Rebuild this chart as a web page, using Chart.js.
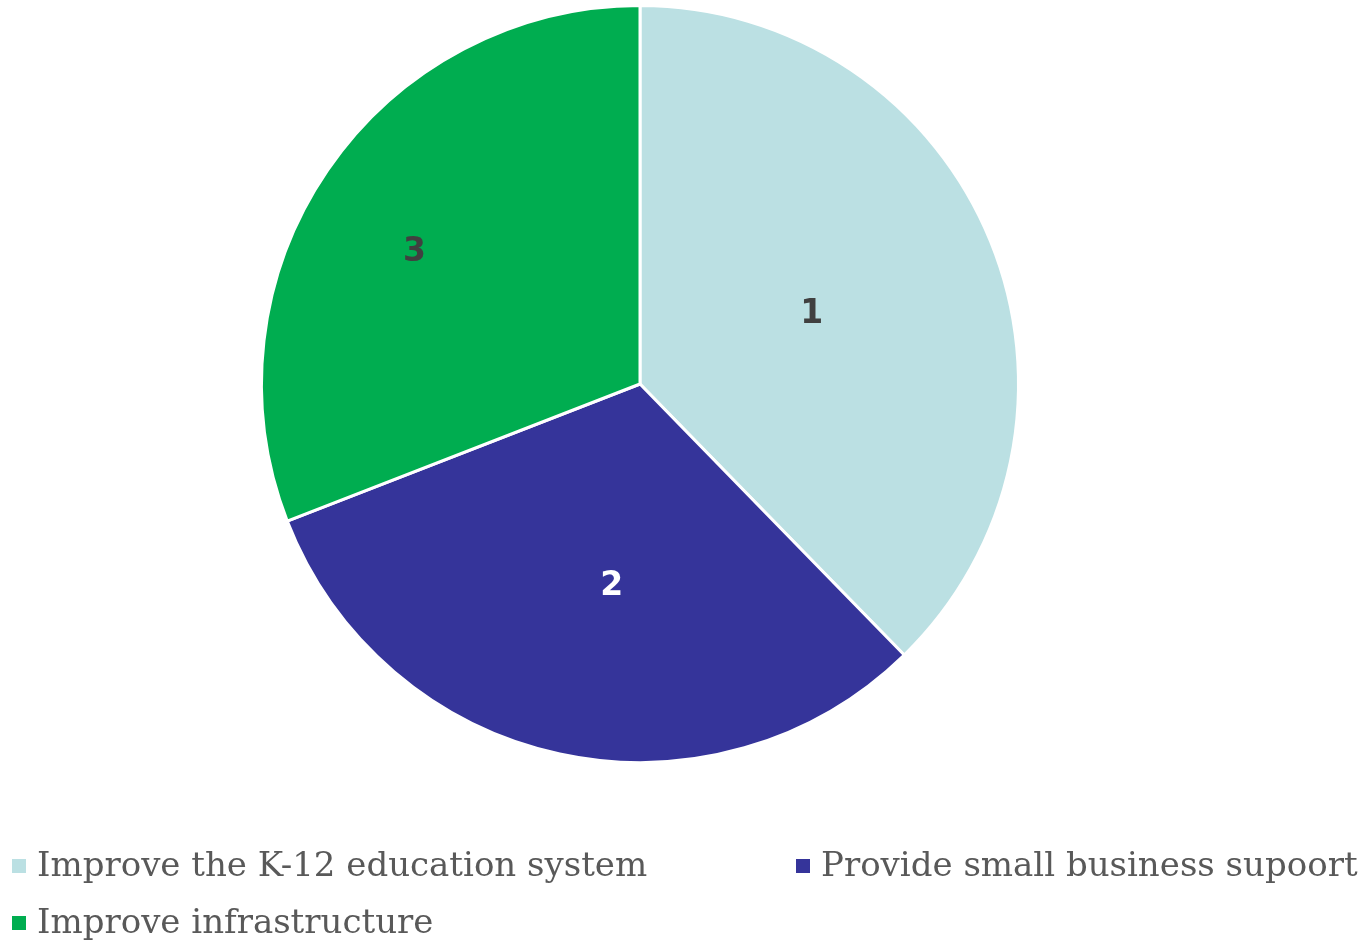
<!DOCTYPE html>
<html>
<head>
<meta charset="utf-8">
<script src="https://cdn.jsdelivr.net/npm/chart.js@4/dist/chart.umd.min.js"></script>
<style>
  html, body { margin: 0; padding: 0; background: #fff; }
  #wrap { position: relative; width: 1359px; height: 945px; }
  #legend { position: absolute; left: 0; top: 0; width: 1359px; height: 945px; pointer-events: none; }
  .item { position: absolute; display: flex; align-items: center; font-family: "DejaVu Serif", serif; font-size: 34px; color: #595959; white-space: nowrap; }
  .box { width: 14px; height: 14px; margin-right: 11px; margin-top: 4px; }
</style>
</head>
<body>
<div id="wrap">
  <canvas id="pieChart" width="1359" height="945"></canvas>
  <div id="legend"></div>
</div>
<script>
const categories = ['Improve the K-12 education system', 'Provide small business supoort', 'Improve infrastructure'];
const shares = [37.7, 31.4, 30.9];
const sliceLabels = ['1', '2', '3'];
const sliceColors = ['#BBE0E3', '#35349A', '#00AD50'];

// where each number sits: fraction of the radius, nudge in degrees, colour
const labelRadius = [0.49, 0.54, 0.69];
const labelNudge = [0, -4.3, -4.1];
const labelColors = ['#404040', '#FFFFFF', '#404040'];

const sliceNumbers = {
    id: 'sliceNumbers',
    afterDatasetsDraw(chart) {
        const ctx = chart.ctx;
        const arcs = chart.getDatasetMeta(0).data;
        ctx.save();
        ctx.font = 'bold 33px "DejaVu Sans", sans-serif';
        ctx.textAlign = 'center';
        ctx.textBaseline = 'middle';
        arcs.forEach((arc, i) => {
            const mid = (arc.startAngle + arc.endAngle) / 2 + labelNudge[i] * Math.PI / 180;
            const r = arc.outerRadius * labelRadius[i];
            ctx.fillStyle = labelColors[i];
            ctx.fillText(sliceLabels[i], arc.x + Math.cos(mid) * r, arc.y + Math.sin(mid) * r);
        });
        ctx.restore();
    }
};

const ctx = document.getElementById('pieChart').getContext('2d');
const chart = new Chart(ctx, {
    type: 'pie',
    data: {
        labels: categories,
        datasets: [{
            data: shares,
            backgroundColor: sliceColors,
            borderColor: '#FFFFFF',
            borderWidth: 3
        }]
    },
    options: {
        responsive: false,
        animation: false,
        layout: {
            padding: { left: 260, right: 339, top: 3, bottom: 180 }
        },
        plugins: {
            legend: { display: false },
            tooltip: { enabled: false }
        }
    },
    plugins: [sliceNumbers]
});

// legend laid out like the original: two columns, wrapping to a second row
const legendSpots = [[12, 844], [796, 844], [12, 901]];
const legendEl = document.getElementById('legend');
categories.forEach((name, i) => {
    const item = document.createElement('div');
    item.className = 'item';
    item.style.left = legendSpots[i][0] + 'px';
    item.style.top = legendSpots[i][1] + 'px';
    const box = document.createElement('span');
    box.className = 'box';
    box.style.background = sliceColors[i];
    const txt = document.createElement('span');
    txt.textContent = name;
    item.appendChild(box);
    item.appendChild(txt);
    legendEl.appendChild(item);
});
</script>
</body>
</html>
